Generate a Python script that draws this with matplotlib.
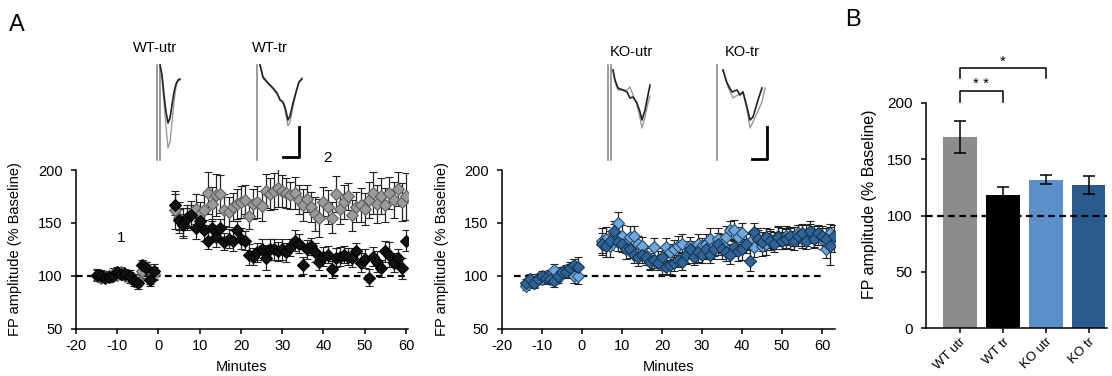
import matplotlib.pyplot as plt

plt.rcParams["font.family"] = ["Liberation Sans", "DejaVu Sans"]
plt.rcParams["axes.unicode_minus"] = False

# ---------------- data: panel A, WT (left) ----------------
wt_base_t = list(range(-15, 0))
wt_post_t = list(range(4, 61))

wt_utr_base = [100, 98, 99, 100, 102, 101, 103, 100, 98, 97, 96, 104, 108, 97, 102]
wt_utr_base_err = [5, 4, 5, 4, 5, 4, 5, 4, 5, 5, 6, 6, 5, 5, 6]
wt_tr_base = [101, 100, 98, 99, 100, 103, 102, 102, 100, 95, 93, 110, 107, 96, 104]
wt_tr_base_err = [5, 5, 4, 5, 4, 5, 5, 4, 5, 5, 6, 5, 6, 6, 7]

wt_utr_post = [162, 155, 150, 155, 158, 163, 158, 162, 178, 168,
               176, 177, 162, 160, 165, 168, 170, 172, 156, 168,
               170, 166, 180, 177, 180, 183, 180, 178, 176, 178,
               172, 167, 173, 165, 158, 155, 170, 165, 155, 177,
               163, 170, 175, 157, 165, 167, 163, 172, 178, 168,
               175, 167, 178, 172, 182, 170, 175]
wt_utr_post_err = [18, 15, 14, 12, 13, 14, 12, 14, 20, 16,
                   20, 18, 15, 14, 13, 14, 15, 14, 12, 14,
                   15, 14, 16, 15, 17, 18, 15, 14, 13, 15,
                   14, 15, 13, 14, 16, 18, 14, 16, 15, 17,
                   14, 16, 13, 15, 14, 16, 15, 17, 20, 18,
                   17, 16, 15, 17, 16, 18, 22]
wt_tr_post = [167, 153, 148, 155, 157, 145, 152, 143, 133, 145,
              137, 145, 132, 135, 133, 143, 135, 133, 120, 118,
              122, 125, 117, 125, 125, 123, 125, 122, 127, 133,
              130, 110, 125, 128, 122, 113, 118, 120, 106, 117,
              118, 120, 118, 117, 123, 112, 116, 98, 118, 113,
              107, 123, 120, 112, 117, 107, 133]
wt_tr_post_err = [10, 10, 10, 9, 10, 10, 9, 10, 8, 9,
                  10, 9, 8, 9, 10, 9, 10, 9, 10, 8,
                  9, 10, 12, 10, 10, 9, 10, 9, 8, 10,
                  9, 8, 9, 8, 9, 8, 9, 8, 8, 9,
                  9, 8, 8, 9, 8, 9, 9, 8, 9, 10,
                  8, 10, 12, 9, 8, 10, 10]

# ---------------- data: panel A, KO (middle) ----------------
ko_base_t = list(range(-14, 0))
ko_post_t = list(range(5, 64))

ko_utr_base = [90, 95, 93, 98, 97, 100, 100, 105, 98, 103, 105, 105, 100, 100]
ko_utr_base_err = [4, 4, 5, 4, 5, 4, 5, 6, 5, 5, 5, 6, 7, 8]
ko_tr_base = [93, 97, 93, 97, 100, 98, 97, 95, 100, 103, 103, 107, 110, 108]
ko_tr_base_err = [4, 5, 4, 5, 4, 5, 5, 6, 5, 5, 5, 6, 6, 10]

ko_utr_post = [133, 135, 128, 140, 150, 138, 130, 137, 138, 130,
               128, 120, 113, 127, 115, 110, 127, 122, 125, 128,
               130, 120, 128, 120, 130, 128, 130, 135, 128, 135,
               130, 137, 143, 143, 137, 140, 130, 132, 127, 135,
               128, 130, 135, 133, 138, 135, 138, 135, 137, 140,
               135, 138, 140, 137, 138, 135, 125, 140, 132]
ko_utr_post_err = [12, 11, 10, 9, 10, 10, 9, 10, 9, 8,
                   9, 8, 8, 9, 8, 8, 9, 8, 9, 10,
                   9, 8, 9, 8, 9, 8, 9, 10, 9, 10,
                   9, 10, 9, 10, 9, 10, 9, 8, 9, 10,
                   9, 10, 9, 8, 9, 10, 9, 10, 9, 8,
                   9, 10, 9, 10, 9, 10, 8, 9, 10]
ko_tr_post = [130, 128, 133, 142, 132, 130, 125, 125, 120, 118,
              120, 118, 113, 115, 112, 118, 108, 110, 112, 115,
              113, 120, 125, 118, 122, 120, 125, 120, 125, 130,
              125, 122, 120, 127, 123, 125, 130, 114, 141, 135,
              132, 137, 133, 130, 137, 133, 135, 138, 133, 138,
              140, 133, 142, 135, 140, 138, 135, 128, 138]
ko_tr_post_err = [10, 10, 9, 10, 9, 8, 9, 8, 8, 9,
                  8, 8, 7, 8, 7, 8, 7, 8, 8, 7,
                  8, 9, 8, 8, 9, 8, 9, 8, 9, 10,
                  9, 8, 9, 8, 9, 10, 5, 10, 9, 8,
                  9, 8, 9, 8, 9, 8, 9, 8, 9, 10,
                  9, 8, 10, 9, 8, 9, 10, 18, 10]

BASELINE = 100

# ---------------- data: panel B ----------------
groups = ["WT utr", "WT tr", "KO utr", "KO tr"]
group_mean = [170, 118, 132, 127]
group_err = [14, 7, 4, 8]
group_colors = ["#8c8c8c", "#000000", "#5b8fc7", "#2b5b8c"]

# ---------------- data: example traces (ms, mV) ----------------
wt_utr_tr_t = [2.0, 2.4, 2.8, 3.2, 3.6, 4.0, 4.4, 4.8, 5.2, 5.6, 6.0]
wt_utr_tr_pre = [-0.06, -0.3, -0.8, -1.3, -1.72, -1.6, -1.2, -0.8, -0.5, -0.38, -0.36]
wt_utr_tr_post = [-0.06, -0.26, -0.66, -1.0, -1.22, -1.12, -0.86, -0.6, -0.44, -0.36, -0.34]

wt_tr_tr_t = [2.0, 2.6, 3.6, 4.6, 5.4, 6.0, 6.6, 7.0, 7.6, 8.0, 8.6, 9.2, 9.8, 10.4]
wt_tr_tr_pre = [-0.06, -0.32, -0.44, -0.54, -0.64, -0.74, -0.82, -0.96, -1.28, -1.2,
                -0.9, -0.62, -0.4, -0.32]
wt_tr_tr_post = [-0.06, -0.3, -0.42, -0.52, -0.62, -0.76, -0.8, -0.9, -1.16, -1.08,
                 -0.82, -0.6, -0.4, -0.34]

ko_utr_tr_t = [2.6, 3.0, 3.6, 4.6, 5.4, 6.0, 6.6, 7.4, 8.0, 8.4, 9.0, 9.6, 10.0]
ko_utr_tr_pre = [-0.16, -0.4, -0.56, -0.56, -0.56, -0.5, -0.66, -0.86, -1.12, -1.32,
                 -1.1, -0.82, -0.68]
ko_utr_tr_post = [-0.16, -0.36, -0.52, -0.56, -0.6, -0.72, -0.7, -0.82, -1.0, -1.16,
                  -0.96, -0.66, -0.46]

ko_tr_tr_t_pre = [2.6, 3.6, 4.6, 5.6, 6.6, 7.4, 8.0, 8.6, 10.4, 11.0]
ko_tr_tr_pre = [-0.16, -0.5, -0.72, -0.66, -0.6, -0.96, -1.32, -1.2, -0.8, -0.52]
ko_tr_tr_t_post = [2.6, 3.4, 4.4, 5.4, 6.0, 6.6, 7.4, 8.0, 8.6, 9.6, 10.4]
ko_tr_tr_post = [-0.16, -0.42, -0.6, -0.56, -0.66, -0.6, -0.9, -1.16, -1.1, -0.76, -0.52]

# stimulus artifacts (ms) and scale bars (L shapes)
wt_utr_artifact = [1.4, 2.0]
wt_tr_artifact = [1.4]
ko_utr_artifact = [1.66, 2.14]
ko_tr_artifact = [1.4]
wt_scale_t = [6.6, 9.8, 9.8]
wt_scale_v = [-1.9, -1.9, -1.3]
ko_scale_t = [8.3, 11.3, 11.3]
ko_scale_v = [-1.94, -1.94, -1.3]

W, H = 1112, 376
fig = plt.figure(figsize=(W / 100, H / 100), dpi=100)


def style_axis(ax):
    for s in ["top", "right"]:
        ax.spines[s].set_visible(False)
    for s in ["left", "bottom"]:
        ax.spines[s].set_linewidth(1.1)
    ax.tick_params(direction="out", length=3.5, width=1.1, labelsize=10.5)
    ax.tick_params(axis="y", pad=6)
    ax.tick_params(axis="x", pad=4)


def series(ax, t, y, err, face, edge):
    ax.errorbar(t, y, yerr=err, fmt="D", ms=6.5, mfc=face, mec=edge, mew=0.8,
                ecolor="#222222", elinewidth=0.9, capsize=3, capthick=0.9)


# ---- left: WT ----
ax1 = fig.add_axes([76 / W, 1 - 328.5 / H, 332 / W, 158.5 / H])
style_axis(ax1)
ax1.hlines(BASELINE, -20, wt_post_t[-1], colors="black", linestyles=(0, (3, 2)), lw=1.6, zorder=1)
series(ax1, wt_base_t, wt_utr_base, wt_utr_base_err, "#9a9a9a", "#5e5e5e")
series(ax1, wt_base_t, wt_tr_base, wt_tr_base_err, "#111111", "#000000")
series(ax1, wt_post_t, wt_utr_post, wt_utr_post_err, "#9a9a9a", "#5e5e5e")
series(ax1, wt_post_t, wt_tr_post, wt_tr_post_err, "#111111", "#000000")
ax1.set_xlim(-20, 60.5)
ax1.set_ylim(50, 200)
ax1.set_xticks(range(-20, 61, 10))
ax1.set_yticks([50, 100, 150, 200])
ax1.set_ylabel("FP amplitude (% Baseline)", fontsize=10.5)
ax1.yaxis.set_label_coords(-0.163, 0.5)
ax1.set_xlabel("Minutes", fontsize=10.5)
ax1.xaxis.set_label_coords(0.5, -0.2)
ax1.text(-9, 136, "1", fontsize=11, ha="center", va="center")
ax1.text(41, 211, "2", fontsize=11, ha="center", va="center")

# ---- middle: KO ----
ax2 = fig.add_axes([502 / W, 1 - 328.5 / H, 333 / W, 158.5 / H])
style_axis(ax2)
ax2.hlines(BASELINE, -17, 60, colors="black", linestyles=(0, (3, 2)), lw=1.6, zorder=1)
series(ax2, ko_base_t, ko_utr_base, ko_utr_base_err, "#6fa8dc", "#24476b")
series(ax2, ko_base_t, ko_tr_base, ko_tr_base_err, "#2f6499", "#183550")
series(ax2, ko_post_t, ko_utr_post, ko_utr_post_err, "#6fa8dc", "#24476b")
series(ax2, ko_post_t, ko_tr_post, ko_tr_post_err, "#2f6499", "#183550")
ax2.set_xlim(-20, 63.25)
ax2.set_ylim(50, 200)
ax2.set_xticks(range(-20, 61, 10))
ax2.set_yticks([50, 100, 150, 200])
ax2.set_ylabel("FP amplitude (% Baseline)", fontsize=10.5)
ax2.yaxis.set_label_coords(-0.159, 0.5)
ax2.set_xlabel("Minutes", fontsize=10.5)
ax2.xaxis.set_label_coords(0.5, -0.2)

# ---- B: bars ----
ax3 = fig.add_axes([926 / W, 1 - 328 / H, 181 / W, 225 / H])
style_axis(ax3)
xpos = range(len(groups))
ax3.bar(xpos, group_mean, width=0.79, color=group_colors, zorder=2)
ax3.errorbar(xpos, group_mean, yerr=group_err, fmt="none", ecolor="black",
             elinewidth=1.1, capsize=4, capthick=1.1, zorder=3)
ax3.axhline(BASELINE, color="black", ls=(0, (3, 2)), lw=1.6, zorder=4)
ax3.set_xlim(-0.79, 3.43)
ax3.set_ylim(0, 200)
ax3.set_yticks([0, 50, 100, 150, 200])
ax3.set_xticks(list(xpos))
ax3.set_xticklabels(groups, rotation=45, ha="right", rotation_mode="anchor", fontsize=9.5)
ax3.tick_params(axis="x", pad=2)
ax3.set_ylabel("FP amplitude (% Baseline)", fontsize=11.5)
ax3.yaxis.set_label_coords(-0.27, 0.55)
ax3.tick_params(axis="y", labelsize=11)

# significance brackets
for (a, b), bottom, top, star in [((0, 1), 201, 210.5, "* *"), ((0, 2), 222, 231, "*")]:
    ax3.plot([a, a, b, b], [bottom, top, top, bottom], color="black", lw=1.1, clip_on=False)
    ax3.text((a + b) / 2, top + 6, star, ha="center", va="center", fontsize=11)

# ---- example traces ----
def trace_axes(x0, y0):
    ax = fig.add_axes([x0 / W, 1 - (y0 + 105) / H, 60 / W, 105 / H])
    ax.set_xlim(0, 12)
    ax.set_ylim(-2.1, 0)
    ax.axis("off")
    return ax


def draw_trace(ax, t_pre, pre, t_post, post, artifacts):
    for a in artifacts:
        ax.plot([a, a], [-0.06, -1.96], color="#8a8a8a", lw=1.2)
    ax.plot(t_pre, pre, color="#9a9a9a", lw=1.0)
    ax.plot(t_post, post, color="#222222", lw=1.2)


tA = trace_axes(150, 62)
draw_trace(tA, wt_utr_tr_t, wt_utr_tr_pre, wt_utr_tr_t, wt_utr_tr_post, wt_utr_artifact)
tB = trace_axes(250, 62)
draw_trace(tB, wt_tr_tr_t, wt_tr_tr_pre, wt_tr_tr_t, wt_tr_tr_post, wt_tr_artifact)
tB.plot(wt_scale_t, wt_scale_v, color="black", lw=2)
tC = trace_axes(600, 62)
draw_trace(tC, ko_utr_tr_t, ko_utr_tr_pre, ko_utr_tr_t, ko_utr_tr_post, ko_utr_artifact)
tD = trace_axes(710, 62)
draw_trace(tD, ko_tr_tr_t_pre, ko_tr_tr_pre, ko_tr_tr_t_post, ko_tr_tr_post, ko_tr_artifact)
tD.plot(ko_scale_t, ko_scale_v, color="black", lw=2)

for label, x, y in [("WT-utr", 155, 48), ("WT-tr", 270, 48), ("KO-utr", 631, 52), ("KO-tr", 742, 52)]:
    fig.text(x / W, 1 - y / H, label, ha="center", va="center", fontsize=10.5)

fig.text(17 / W, 1 - 25 / H, "A", ha="center", va="center", fontsize=17)
fig.text(853 / W, 1 - 20 / H, "B", ha="center", va="center", fontsize=17)

fig.savefig("out.png", dpi=100)
